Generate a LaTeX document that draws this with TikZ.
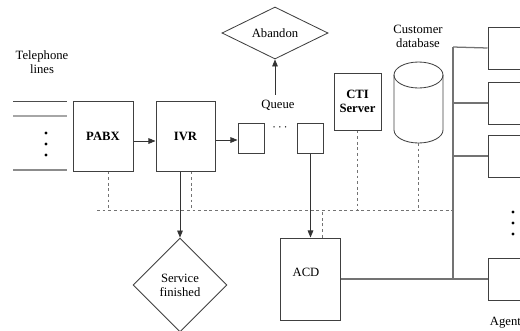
\documentclass[tikz,border=0pt]{standalone}
\usepackage{fontspec}
\setmainfont{Liberation Serif}
\usetikzlibrary{arrows.meta,shapes.geometric}

\begin{document}
\begin{tikzpicture}[x=0.025cm,y=-0.025cm,font=\fontsize{9}{10}\selectfont,
  box/.style={draw=black!75,line width=0.7pt,inner sep=0pt},
  qbox/.style={box,minimum width=0.65cm,minimum height=0.75cm},
  agbox/.style={box,minimum width=1.5cm,minimum height=1.05cm},
  cond/.style={draw=black!75,line width=0.6pt,diamond,inner sep=0pt,align=center},
  flow/.style={draw=black!80,line width=0.6pt,-{Triangle[length=5pt,width=4pt]}},
  link/.style={draw=black!55,line width=0.9pt},
  bus/.style={draw=black!55,line width=0.6pt,dash pattern=on 2pt off 2pt},
  dot/.style={circle,fill=black,inner sep=0pt,minimum size=2.2pt}]

\clip (0,0) rectangle (520,330);

% Linee

\begin{scope}
\node[align=center] (tel) at (42,62) {Telephone\\lines};
\draw[black!70,line width=0.6pt] (13,101) -- (67,101);
\draw[black!35,line width=1.1pt] (13,116) -- (67,116);
\draw[black!45,line width=1.2pt] (13,170) -- (67,170);
\foreach \y in {133,144,155}
  \node[dot] at (46,\y) {};
\end{scope}

% Nodi

\node[box,minimum width=1.5cm,minimum height=1.75cm,font=\fontsize{9}{10}\selectfont\bfseries] (pabx) at (103,136) {PABX};
\node[box,minimum width=1.475cm,minimum height=1.75cm,font=\fontsize{9}{10}\selectfont\bfseries] (ivr) at (185.5,136) {IVR};
\node[qbox] (q1) at (251,138) {};
\node[qbox] (q2) at (310.5,138) {};
\node (qdots) at (280,128) {$\cdots$};
\node (queue) at (278,105) {Queue};
\node[cond,aspect=2,minimum width=2.65cm,minimum height=1.3cm] (abandon) at (275,33) {Abandon};
\node[box,minimum width=1.175cm,minimum height=1.425cm,align=center,font=\fontsize{9}{10}\selectfont\bfseries] (cti) at (357.5,101.5) {CTI\\Server};
\node[align=center] (dbtext) at (418,36) {Customer\\database};
\node[cond,aspect=1,minimum width=2.35cm,minimum height=2.35cm] (sf) at (180,285) {Service\\finished};
\node[box,minimum width=1.5cm,minimum height=2.05cm] (acd) at (310,279) {};
\node (acdtext) at (306,272) {ACD};

% Database

\begin{scope}[draw=black!75,line width=0.6pt]
\coordinate (dbtop) at (418.5,75);
\coordinate (db) at (418.5,143);
\draw (dbtop) ellipse [x radius=0.6125cm,y radius=0.325cm];
\draw (394,75) -- (394,130) arc [start angle=180,end angle=360,x radius=0.6125cm,y radius=0.325cm] -- (443,75);
\end{scope}

% Agenti

\node[agbox] (ag1) at (518,48) {};
\node[agbox] (ag2) at (518,103) {};
\node[agbox] (ag3) at (518,156) {};
\node[agbox] (ag4) at (518,279) {};
\foreach \y in {212,223,234}
  \node[dot] at (513,\y) {};
\node[anchor=west] (agents) at (485,323) {Agents};

% Collegamenti

\draw[flow] (pabx.east |- 0,141) -- (ivr.west |- 0,141);
\draw[flow] (ivr.east |- 0,140) -- (q1.west |- 0,140);
\draw[flow] (queue.north -| abandon.south) -- (abandon.south);
\draw[flow] (q2.south) -- (acd.north -| q2.south);
\draw[flow] (ivr.south -| sf.north) -- (sf.north);

\coordinate (bustop) at (453,47);
\coordinate (busbot) at (453,279);
\draw[link] (bustop) -- (busbot);
\draw[link] (bustop) -- (ag1.west);
\draw[link] (ag2.west -| bustop) -- (ag2.west);
\draw[link] (ag3.west -| bustop) -- (ag3.west);
\draw[link] (acd.east) -- (ag4.west);

\coordinate (busl) at (97,210);
\coordinate (busr) at (453,210);
\draw[bus] (busl) -- (busr);
\draw[bus] (pabx.south) ++(5,0) coordinate (p1) -- (p1 |- busl);
\draw[bus] (ivr.south) ++(6,0) coordinate (i1) -- (i1 |- busl);
\draw[bus] (cti.south) -- (cti.south |- busl);
\draw[bus] (db) -- (db |- busl);
\draw[bus] (acd.north) ++(12,0) coordinate (a1) -- (a1 |- busl);

\end{tikzpicture}
\end{document}
